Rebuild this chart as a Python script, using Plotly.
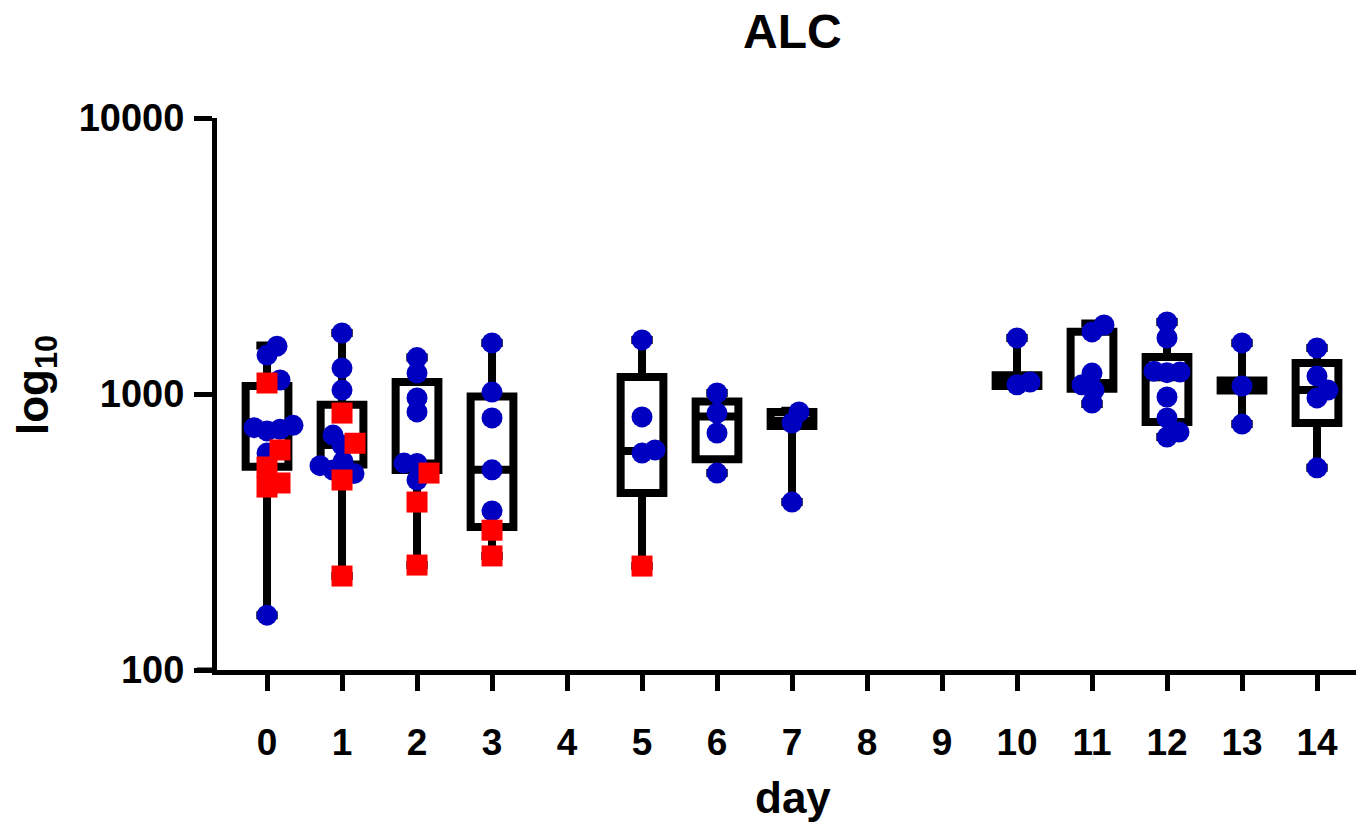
import numpy as np
import plotly.graph_objects as go

# ---------------- data ----------------
tick_days = list(range(15))
tick_text = [str(d) for d in tick_days]
y_tickvals = [100, 1000, 10000]
y_ticktext = ["100", "1000", "10000"]

# blue circles
blue_days = [0]*9 + [1]*9 + [2]*7 + [3]*5 + [5]*4 + [6]*4 + [7]*3 + [10]*3 + [11]*6 + [12]*9 + [13]*3 + [14]*5
blue_values = [
    1490, 1384, 1124, 770, 755, 745, 735, 611, 158,          # day 0
    1664, 1241, 1033, 710, 653, 570, 550, 530, 515,          # day 1
    1355, 1191, 968, 861, 562, 560, 488,                     # day 2
    1531, 1016, 819, 531, 377,                               # day 3
    1570, 826, 627, 611,                                     # day 5
    1008, 853, 722, 517,                                     # day 6
    861, 785, 406,                                           # day 7
    1596, 1105, 1080,                                        # day 10
    1778, 1679, 1191, 1080, 1033, 928,                       # day 11
    1825, 1596, 1210, 1202, 1195, 975, 819, 728, 698,        # day 12
    1531, 1069, 778,                                         # day 13
    1468, 1161, 1033, 968, 540,                              # day 14
]

# red squares
red_days = [0]*5 + [1]*4 + [2]*3 + [3]*2 + [5]*1
red_values = [
    1096, 627, 544, 476, 460,     # day 0
    853, 663, 488, 219,           # day 1
    517, 406, 240,                # day 2
    321, 259,                     # day 3
    238,                          # day 5
]

# box plot summary (whiskers min..max)
box_days   = [0,    1,    2,    3,    5,    6,    7,    10,   11,   12,   13,   14]
box_min    = [158,  219,  240,  259,  238,  517,  406,  1070, 920,  698,  778,  540]
box_q1     = [545,  555,  530,  330,  438,  580,  765,  1070, 1045, 792,  1030, 785]
box_median = [740,  653,  560,  531,  621,  828,  800,  1105, 1095, 1150, 1069, 1033]
box_q3     = [1070, 915,  1105, 980,  1153, 940,  860,  1170, 1680, 1361, 1120, 1294]
box_max    = [1500, 1664, 1355, 1531, 1570, 1008, 870,  1596, 1800, 1825, 1531, 1468]

# ---------------- geometry / styles ----------------
W, H = 1359, 826
M_L, M_R, M_T, M_B = 217, 3, 118, 156
X_RANGE = [-0.667, 14.52]
PLOT_W = W - M_L - M_R
PLOT_H = H - M_T - M_B
PX_PER_X = PLOT_W / (X_RANGE[1] - X_RANGE[0])
PX_PER_DEC = PLOT_H / 2.0
MARKER = 21
MIN_DIST = 13.0
BLUE = "#0000C0"
RED = "#FF0000"
FONT = "Liberation Sans, Arial, sans-serif"


def swarm_offsets(days, values):
    """deterministic beeswarm: horizontal offsets (in x units) per point"""
    days = np.asarray(days)
    values = np.asarray(values, dtype=float)
    offs = np.zeros(len(values))
    cands = sorted(range(-70, 71), key=lambda o: (abs(o), -o))
    for d in np.unique(days):
        idx = np.where(days == d)[0]
        order = idx[np.argsort(values[idx])]
        placed = []
        for i in order:
            ypx = np.log10(values[i]) * PX_PER_DEC
            chosen = 0
            for o in cands:
                if all((o - po) ** 2 + (ypx - py) ** 2 >= MIN_DIST ** 2 for po, py in placed):
                    chosen = o
                    break
            placed.append((chosen, ypx))
            offs[i] = chosen / PX_PER_X
    return offs


all_days = blue_days + red_days
all_vals = blue_values + red_values
all_offs = swarm_offsets(all_days, all_vals)
nb = len(blue_values)
blue_x = np.asarray(blue_days) + all_offs[:nb]
red_x = np.asarray(red_days) + all_offs[nb:]

fig = go.Figure()

fig.add_trace(go.Box(
    x=box_days,
    q1=box_q1, median=box_median, q3=box_q3,
    lowerfence=box_min, upperfence=box_max,
    width=0.57, whiskerwidth=0.5,
    line=dict(color="black", width=8),
    fillcolor="white",
    boxpoints=False,
    hoverinfo="skip",
    showlegend=False,
))

fig.add_trace(go.Scatter(
    x=blue_x, y=blue_values, mode="markers",
    marker=dict(symbol="circle", size=MARKER, color=BLUE, line=dict(width=0)),
    showlegend=False, cliponaxis=False,
))
fig.add_trace(go.Scatter(
    x=red_x, y=red_values, mode="markers",
    marker=dict(symbol="square", size=MARKER, color=RED, line=dict(width=0)),
    showlegend=False, cliponaxis=False,
))

fig.update_layout(
    width=W, height=H,
    margin=dict(l=M_L, r=M_R, t=M_T, b=M_B),
    paper_bgcolor="white", plot_bgcolor="white",
    font=dict(family=FONT, color="black"),
    showlegend=False,
    xaxis=dict(
        range=X_RANGE, tickmode="array", tickvals=tick_days, ticktext=tick_text,
        showline=True, linecolor="black", linewidth=5,
        ticks="outside", ticklen=16, tickwidth=5, tickcolor="black",
        showgrid=False, zeroline=False,
        tickfont=dict(family=FONT, size=37, weight="bold"),
        ticklabelstandoff=20,
    ),
    yaxis=dict(
        type="log", range=[2, 4], tickmode="array",
        tickvals=y_tickvals, ticktext=y_ticktext,
        showline=True, linecolor="black", linewidth=5,
        ticks="outside", ticklen=18, tickwidth=5, tickcolor="black",
        showgrid=False, zeroline=False,
        tickfont=dict(family=FONT, size=38, weight="bold"),
        ticklabelstandoff=2,
    ),
    annotations=[
        dict(text="<b>ALC</b>", xref="paper", yref="paper",
             x=(792 - M_L) / PLOT_W, y=(H - M_B - 31) / PLOT_H,
             xanchor="center", yanchor="middle", showarrow=False,
             font=dict(family=FONT, size=48)),
        dict(text="<b>day</b>", xref="paper", yref="paper",
             x=(793 - M_L) / PLOT_W, y=(H - M_B - 797) / PLOT_H,
             xanchor="center", yanchor="middle", showarrow=False,
             font=dict(family=FONT, size=44)),
        dict(text="<b>log<sub>10</sub></b>", xref="paper", yref="paper",
             x=(36 - M_L) / PLOT_W, y=(H - M_B - 385) / PLOT_H,
             xanchor="center", yanchor="middle", textangle=-90, showarrow=False,
             font=dict(family=FONT, size=44)),
    ],
    shapes=[
        dict(type="line", xref="paper", yref="paper",
             x0=(197 - M_L) / PLOT_W, x1=0, y0=0, y1=0,
             line=dict(color="black", width=5)),
    ],
)

fig.write_html(
    "out.html",
    config={"displayModeBar": False},
    post_script="document.body.style.margin='0';document.body.style.overflow='hidden';",
)
